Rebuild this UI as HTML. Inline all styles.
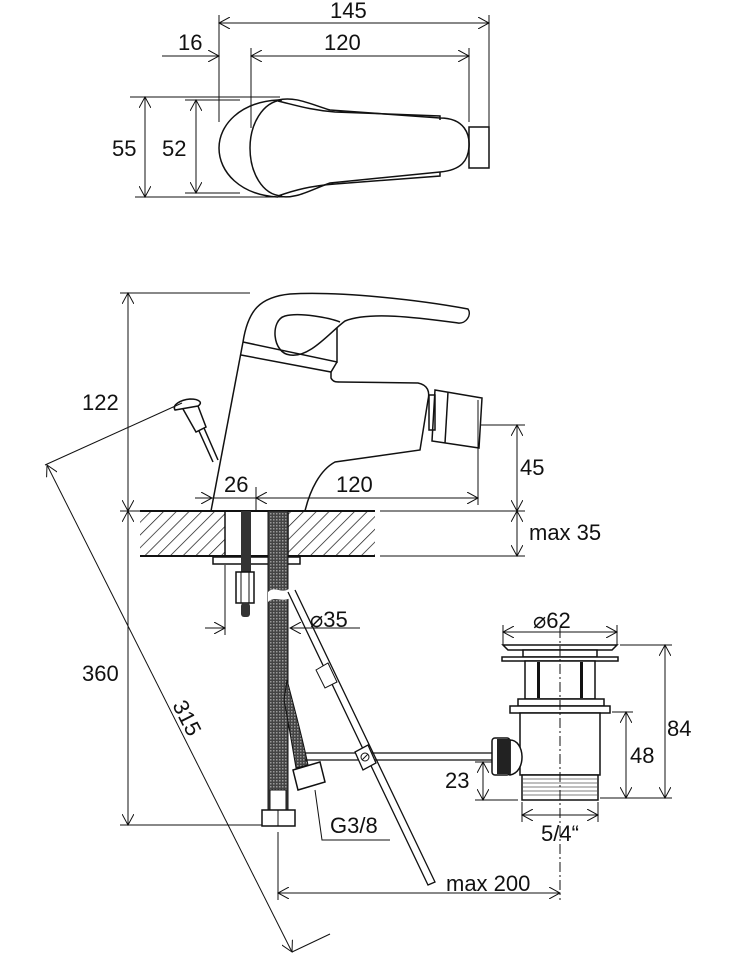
<!DOCTYPE html>
<html><head><meta charset="utf-8"><style>
html,body{margin:0;padding:0;background:#fff}
svg{display:block}
text{font-family:"Liberation Sans",sans-serif;font-size:22px;fill:#111}
</style></head><body>
<svg width="731" height="956" viewBox="0 0 731 956" xmlns="http://www.w3.org/2000/svg">
<defs>
<marker id="a" viewBox="0 0 12 12" refX="11" refY="6" markerWidth="12" markerHeight="12" markerUnits="userSpaceOnUse" orient="auto-start-reverse">
<path d="M0,0 L11,6 L0,12" fill="none" stroke="#111" stroke-width="1"/></marker>
<pattern id="h" width="9" height="9" patternUnits="userSpaceOnUse" patternTransform="rotate(45)">
<line x1="0" y1="0" x2="0" y2="9" stroke="#111" stroke-width="1.4"/></pattern>
<pattern id="br" width="3" height="3" patternUnits="userSpaceOnUse">
<rect width="3" height="3" fill="#444"/><rect width="1.5" height="1.5" fill="#999"/></pattern>
</defs>
<g stroke="#111" stroke-width="1" fill="none">
<!-- TOP VIEW dims -->
<line x1="219" y1="23" x2="489" y2="23" marker-start="url(#a)" marker-end="url(#a)"/>
<line x1="219" y1="15" x2="219" y2="122"/><line x1="489" y1="15" x2="489" y2="127"/>
<line x1="162" y1="56" x2="219" y2="56" marker-end="url(#a)"/>
<line x1="251" y1="56" x2="469" y2="56" marker-start="url(#a)" marker-end="url(#a)"/>
<line x1="251" y1="48" x2="251" y2="128"/><line x1="469" y1="48" x2="469" y2="122"/>
<line x1="145" y1="97" x2="145" y2="197" marker-start="url(#a)" marker-end="url(#a)"/>
<line x1="130" y1="97" x2="280" y2="97"/><line x1="135" y1="197" x2="283" y2="197"/>
<line x1="196" y1="100" x2="196" y2="193" marker-start="url(#a)" marker-end="url(#a)"/>
<line x1="185" y1="100" x2="240" y2="100"/><line x1="185" y1="193" x2="240" y2="193"/>
<g stroke-width="1.5">
<path d="M278,100 C240,102 219,125 219,148 C219,172 240,195 278,197"/>
<path d="M282,100 C262,102 250,125 250,148 C250,172 262,195 282,196"/>
<path d="M278,100 C295,96 310,104 330,110 L440,118 C465,118 470,135 469,147 C468,160 462,170 440,172 L330,183 C310,190 295,200 278,196"/>
<path d="M278,101 C295,105 310,110 335,112 L440,116 L440,120"/>
<path d="M278,196 C295,190 310,186 335,184 L440,176 L440,172"/>
<rect x="469" y="127" width="20" height="41"/>
</g>
<!-- SIDE VIEW -->
<line x1="120" y1="293" x2="250" y2="293"/>
<line x1="128" y1="293" x2="128" y2="511" marker-start="url(#a)" marker-end="url(#a)"/>
<line x1="128" y1="511" x2="128" y2="825" marker-start="url(#a)" marker-end="url(#a)"/>
<line x1="120" y1="825" x2="265" y2="825"/>
<line x1="120" y1="511" x2="140" y2="511"/>
<rect x="140" y="511" width="85" height="45" fill="url(#h)" stroke="none"/>
<rect x="288" y="511" width="87" height="45" fill="url(#h)" stroke="none"/>
<line x1="140" y1="511" x2="375" y2="511" stroke-width="2"/>
<line x1="140" y1="556" x2="375" y2="556" stroke-width="2"/>
<line x1="225" y1="511" x2="225" y2="556" stroke-width="1.5"/>
<line x1="288" y1="511" x2="288" y2="556" stroke-width="1.5"/>
<rect x="213" y="557" width="87" height="7" stroke-width="1.5"/>
<line x1="380" y1="511" x2="525" y2="511"/><line x1="380" y1="556" x2="525" y2="556"/>
<line x1="517" y1="511" x2="517" y2="556" marker-start="url(#a)" marker-end="url(#a)"/>
<line x1="517" y1="425" x2="517" y2="511" marker-start="url(#a)" marker-end="url(#a)"/>
<line x1="480" y1="425" x2="525" y2="425"/>
<line x1="195" y1="498" x2="212" y2="498" marker-end="url(#a)"/>
<line x1="256" y1="498" x2="478" y2="498" marker-start="url(#a)" marker-end="url(#a)"/>
<line x1="212" y1="498" x2="256" y2="498"/>
<line x1="256" y1="487" x2="256" y2="511"/><line x1="478" y1="400" x2="478" y2="505"/>
<g stroke-width="1.5">
<path d="M211,511 L243,342"/>
<path d="M243,342 C248,310 260,297 290,294 C340,291 420,300 468,309 C472,315 466,324 458,323 C420,318 370,311 345,321 C330,332 310,358 290,355 C272,353 270,320 285,316 C300,312 330,318 340,322"/>
<path d="M243,342 L337,362 L337,328"/>
<path d="M241,355 L331,372 L337,362"/>
<path d="M331,372 L331,378 C333,382 336,382 340,382 L418,383 C428,385 430,392 428,400 L420,450 L335,462 C320,470 310,490 305,511"/>
<rect x="429" y="395" width="6" height="35"/>
<path d="M435,390 L482,398 L479,448 L432,441 Z"/>
<line x1="448" y1="392" x2="445" y2="443"/>
<path d="M175,410 C172,405 180,400 190,399 C200,399 203,403 198,406 Z"/>
<path d="M183,409 L196,432 L206,427 L198,406"/>
<path d="M199,431 L213,462 M204,428 L218,460"/>
</g>
<line x1="45" y1="465" x2="182" y2="403"/>
<line x1="47" y1="465" x2="292" y2="952" marker-start="url(#a)" marker-end="url(#a)"/>
<line x1="292" y1="952" x2="330" y2="934"/>
<rect x="241" y="511" width="10" height="65" fill="#333" stroke="none"/>
<rect x="236" y="572" width="18" height="31" fill="#fff" stroke-width="1.5"/>
<line x1="241" y1="572" x2="241" y2="603"/><line x1="249" y1="572" x2="249" y2="603"/>
<rect x="241" y="603" width="9" height="14" rx="3" fill="#333" stroke="none"/>
<rect x="268" y="511" width="20" height="300" fill="url(#br)" stroke-width="1"/>
<path d="M268,592 C275,585 282,595 290,588 L290,598 C282,603 275,595 268,602 Z" fill="#fff" stroke="none"/>
<path d="M287,680 C295,710 303,740 308,765 L296,768 C292,745 288,720 284,700 Z" fill="url(#br)" stroke="#111"/>
<rect x="270" y="790" width="16" height="20" fill="#fff"/>
<path d="M262,810 L295,810 L295,826 L262,826 Z" fill="#fff" stroke-width="1.5"/>
<line x1="278" y1="810" x2="278" y2="826"/>
<path d="M293,770 L320,762 L325,782 L298,790 Z" fill="#fff" stroke-width="1.5"/>
<path d="M288,592 L428,885 L435,882 L295,590" stroke-width="1.3" fill="#fff"/>
<path d="M316,670 L328,663 L337,682 L325,688 Z" fill="#fff"/>
<line x1="305" y1="753" x2="492" y2="753" stroke-width="1.3"/>
<line x1="305" y1="760" x2="492" y2="760" stroke-width="1.3"/>
<path d="M355,752 L368,745 L376,763 L363,770 Z" fill="#fff" stroke-width="1.3"/>
<circle cx="365" cy="757" r="4" fill="#fff"/><line x1="362" y1="760" x2="368" y2="754"/>
<line x1="205" y1="628" x2="225" y2="628" marker-end="url(#a)"/>
<line x1="290" y1="628" x2="360" y2="628" marker-start="url(#a)"/>
<line x1="225" y1="565" x2="225" y2="635"/>
<path d="M315,790 L322,840 L390,840"/>
<line x1="278" y1="893" x2="560" y2="893" marker-start="url(#a)" marker-end="url(#a)"/>
<line x1="278" y1="832" x2="278" y2="900"/>
<line x1="560" y1="628" x2="560" y2="900" stroke-dasharray="10,3,2,3"/>
<g stroke-width="1.5" fill="#fff">
<path d="M503,645 L617,645 L612,650 L508,650 Z"/>
<rect x="523" y="650" width="74" height="7"/>
<rect x="502" y="657" width="116" height="4"/>
<rect x="525" y="661" width="70" height="38"/>
<rect x="518" y="699" width="86" height="7"/>
<rect x="510" y="706" width="100" height="7"/>
<rect x="520" y="713" width="80" height="62"/>
<rect x="522" y="775" width="76" height="25"/>
<path d="M510,740 C525,740 527,772 510,775 Z"/>
<rect x="492" y="738" width="18" height="37" rx="3"/>
</g>
<rect x="497" y="739" width="13" height="35" fill="#222" stroke="none"/>
<g stroke="#555" stroke-width="0.8">
<line x1="523" y1="779" x2="597" y2="779"/><line x1="523" y1="783" x2="597" y2="783"/>
<line x1="523" y1="787" x2="597" y2="787"/><line x1="523" y1="791" x2="597" y2="791"/>
<line x1="523" y1="795" x2="597" y2="795"/>
</g>
<rect x="537" y="662" width="3" height="36" fill="#111" stroke="none"/>
<rect x="580" y="662" width="3" height="36" fill="#111" stroke="none"/>
<line x1="560" y1="628" x2="560" y2="810" stroke-dasharray="10,3,2,3"/>
<line x1="503" y1="632" x2="617" y2="632" marker-start="url(#a)" marker-end="url(#a)"/>
<line x1="503" y1="625" x2="503" y2="645"/><line x1="617" y1="625" x2="617" y2="645"/>
<line x1="620" y1="645" x2="672" y2="645"/><line x1="600" y1="798" x2="672" y2="798"/>
<line x1="665" y1="645" x2="665" y2="798" marker-start="url(#a)" marker-end="url(#a)"/>
<line x1="612" y1="712" x2="633" y2="712"/>
<line x1="626" y1="712" x2="626" y2="798" marker-start="url(#a)" marker-end="url(#a)"/>
<line x1="483" y1="762" x2="483" y2="800" marker-start="url(#a)" marker-end="url(#a)"/>
<line x1="475" y1="762" x2="492" y2="762"/><line x1="475" y1="800" x2="518" y2="800"/>
<line x1="522" y1="815" x2="598" y2="815" marker-start="url(#a)" marker-end="url(#a)"/>
<line x1="522" y1="802" x2="522" y2="822"/><line x1="598" y1="802" x2="598" y2="822"/>
</g>
<text x="330" y="18">145</text>
<text x="178" y="50">16</text>
<text x="324" y="50">120</text>
<text x="112" y="156">55</text>
<text x="162" y="156">52</text>
<text x="82" y="410">122</text>
<text x="224" y="492">26</text>
<text x="336" y="492">120</text>
<text x="520" y="475">45</text>
<text x="529" y="540">max 35</text>
<text x="310" y="627">⌀35</text>
<text x="82" y="681">360</text>
<text x="172" y="705" transform="rotate(63 172 705)">315</text>
<text x="533" y="628">⌀62</text>
<text x="667" y="736">84</text>
<text x="630" y="763">48</text>
<text x="445" y="788">23</text>
<text x="541" y="841">5/4“</text>
<text x="330" y="833">G3/8</text>
<text x="446" y="891">max 200</text>
</svg>
</body></html>
